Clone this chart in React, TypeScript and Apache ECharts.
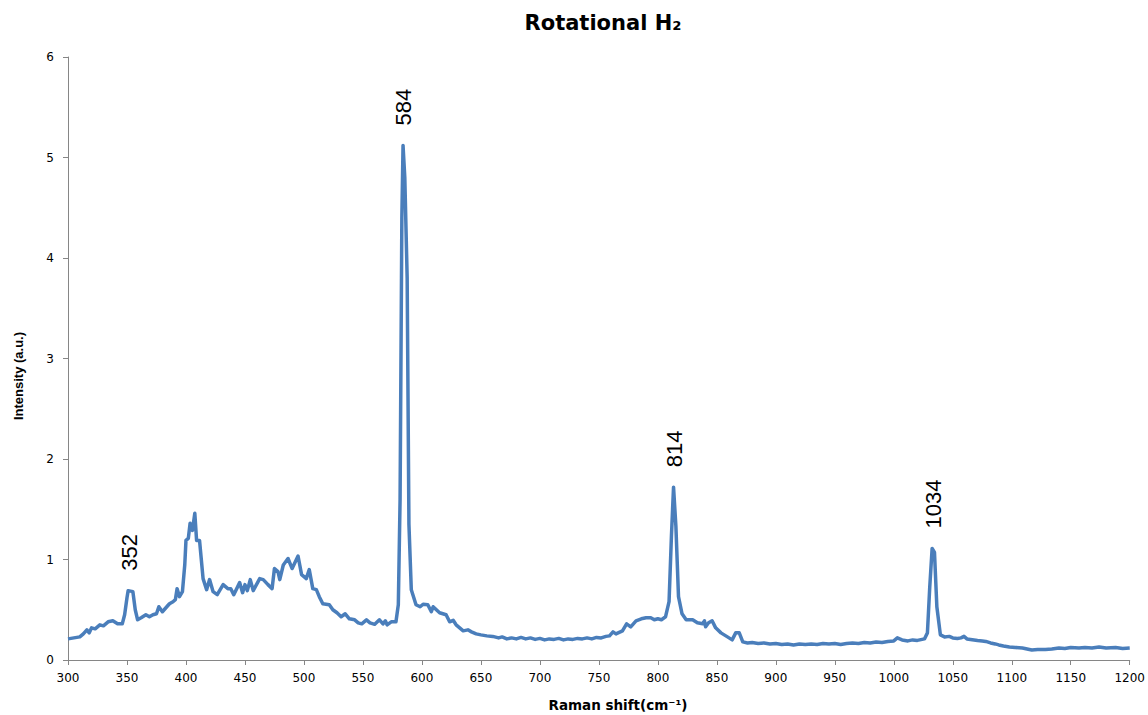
import React, { useEffect, useRef } from "react";
import * as echarts from "echarts";

// [Raman shift (cm-1), intensity (a.u.)]
const spectrum: [number, number][] = [
  [300, 0.21], [305, 0.22], [310, 0.23], [313, 0.26], [316, 0.3], [318, 0.27], [320, 0.32], [323, 0.31],
  [327, 0.35], [330, 0.34], [334, 0.38], [338, 0.39], [342, 0.36], [346, 0.36], [348, 0.45], [350, 0.62],
  [351, 0.69], [355, 0.68], [357, 0.5], [359, 0.4], [362, 0.42], [366, 0.45], [369, 0.43], [372, 0.45],
  [375, 0.46], [377, 0.53], [380, 0.48], [383, 0.52], [386, 0.56], [389, 0.58], [391, 0.6], [392.5, 0.71],
  [394.5, 0.63], [397, 0.68], [399, 0.95], [400, 1.19], [402, 1.21], [403.5, 1.36], [405.5, 1.29], [407.5, 1.46],
  [409, 1.19], [411.5, 1.19], [413, 1.0], [414.5, 0.81], [417.5, 0.7], [420, 0.8], [423, 0.68], [426.5, 0.65],
  [431.5, 0.75], [435.5, 0.71], [438, 0.71], [440.5, 0.65], [445.5, 0.77], [448, 0.67], [450, 0.75], [452, 0.69],
  [454.5, 0.8], [457, 0.69], [462.5, 0.81], [465.5, 0.8], [469.5, 0.75], [473, 0.71], [475, 0.91], [478, 0.88],
  [479.5, 0.8], [482.5, 0.945], [486.5, 1.01], [490, 0.91], [495, 1.035], [498, 0.85], [502, 0.81], [504.5, 0.9],
  [507.5, 0.71], [510.5, 0.7], [513, 0.63], [516, 0.56], [521.5, 0.55], [524.5, 0.5], [528, 0.47], [531.5, 0.43],
  [535, 0.46], [538.5, 0.41], [543, 0.4], [546, 0.37], [549, 0.36], [553, 0.4], [556, 0.37], [560, 0.355],
  [564, 0.4], [567, 0.36], [569, 0.39], [570.5, 0.35], [574, 0.38], [578, 0.38], [580, 0.55], [581.5, 1.6],
  [583, 4.4], [584, 5.12], [585.5, 4.8], [587.5, 3.8], [589, 1.35], [591, 0.7], [595, 0.55], [598.5, 0.53],
  [601, 0.555], [605, 0.55], [608, 0.48], [609.5, 0.53], [615, 0.47], [620.5, 0.45], [623.5, 0.38], [626.5, 0.395],
  [629, 0.35], [635, 0.29], [639, 0.3], [642, 0.28], [646, 0.26], [650, 0.25], [655, 0.24], [660, 0.235],
  [665, 0.22], [668, 0.23], [672, 0.21], [676, 0.22], [680, 0.21], [684, 0.225], [688, 0.21], [692, 0.22],
  [696, 0.205], [700, 0.215], [704, 0.2], [708, 0.21], [712, 0.205], [716, 0.215], [720, 0.2], [724, 0.21],
  [728, 0.205], [732, 0.215], [736, 0.21], [740, 0.22], [744, 0.21], [748, 0.225], [752, 0.22], [756, 0.235],
  [759, 0.24], [762, 0.28], [764.5, 0.26], [770, 0.29], [773.5, 0.36], [777, 0.33], [781.5, 0.39], [786, 0.41],
  [790, 0.42], [794, 0.42], [797, 0.4], [800, 0.41], [803, 0.4], [806.5, 0.43], [809.5, 0.58], [811.5, 1.23],
  [813.3, 1.72], [815.3, 1.33], [817.5, 0.63], [820.5, 0.46], [824, 0.4], [829.5, 0.4], [833.5, 0.37], [838, 0.36],
  [839.5, 0.39], [840.5, 0.33], [843, 0.37], [846, 0.39], [849, 0.32], [853.5, 0.27], [859, 0.23], [863, 0.2],
  [866, 0.27], [869, 0.27], [872, 0.18], [876, 0.17], [880, 0.175], [885, 0.165], [890, 0.17], [895, 0.16],
  [900, 0.165], [905, 0.155], [910, 0.16], [915, 0.15], [920, 0.16], [925, 0.155], [930, 0.16], [935, 0.155],
  [940, 0.165], [945, 0.16], [950, 0.165], [955, 0.155], [960, 0.165], [965, 0.17], [970, 0.165], [975, 0.175],
  [980, 0.17], [985, 0.18], [990, 0.175], [995, 0.185], [1000, 0.19], [1003, 0.22], [1007, 0.2], [1012, 0.19],
  [1016, 0.2], [1020, 0.195], [1026, 0.21], [1028.5, 0.27], [1030.5, 0.73], [1032.5, 1.11], [1034.5, 1.07], [1036.5, 0.53],
  [1039.5, 0.25], [1043, 0.23], [1047, 0.235], [1050, 0.22], [1054, 0.215], [1057, 0.22], [1059.5, 0.235], [1062, 0.21],
  [1065, 0.205], [1068, 0.2], [1071, 0.195], [1075, 0.19], [1078, 0.185], [1082, 0.17], [1086, 0.16], [1089, 0.15],
  [1093, 0.14], [1098, 0.13], [1103, 0.125], [1109, 0.12], [1113, 0.11], [1117, 0.1], [1122, 0.105], [1128.5, 0.105],
  [1134, 0.11], [1140, 0.12], [1145, 0.115], [1150, 0.125], [1157, 0.12], [1162, 0.125], [1168, 0.12], [1174, 0.13],
  [1180, 0.12], [1188, 0.125], [1194, 0.115], [1200, 0.12],
];

const peakShifts: number[] = [352, 584, 814, 1034];
const peakLabels: string[] = ["352", "584", "814", "1034"];

const titleText = "Rotational H\u2082";
const xAxisTitle = "Raman shift(cm\u207B\u00B9)";
const yAxisTitle = "Intensity (a.u.)";

export default function App() {
  const ref = useRef<HTMLDivElement>(null);

  useEffect(() => {
    if (!ref.current) return;
    const chart = echarts.init(ref.current, null, { renderer: "svg" });
    const axisColor = "#868686";
    const labelFont = { color: "#000", fontFamily: "DejaVu Sans", fontSize: 12 };

    chart.setOption({
      animation: false,
      backgroundColor: "#fff",
      grid: { left: 68, right: 17, top: 57, bottom: 55, containLabel: false },
      xAxis: {
        type: "value",
        min: 300,
        max: 1200,
        interval: 50,
        axisLine: { show: true, lineStyle: { color: axisColor, width: 1 } },
        axisTick: { show: true, length: 5, lineStyle: { color: axisColor } },
        splitLine: { show: false },
        axisLabel: { ...labelFont, margin: 12, formatter: (v: number) => String(v) },
      },
      yAxis: {
        type: "value",
        min: 0,
        max: 6,
        interval: 1,
        axisLine: { show: true, lineStyle: { color: axisColor, width: 1 } },
        axisTick: { show: true, length: 5, lineStyle: { color: axisColor } },
        splitLine: { show: false },
        axisLabel: { ...labelFont, margin: 14 },
      },
      series: [
        {
          type: "line",
          data: spectrum,
          showSymbol: false,
          symbol: "none",
          smooth: false,
          lineStyle: { color: "#4a7ebb", width: 3.5, join: "round" },
          itemStyle: { color: "#4a7ebb" },
        },
      ],
    });

    const annotations = peakShifts.map((p, k) => {
      let top = 0;
      spectrum.forEach(([s, v]) => {
        if (Math.abs(s - p) <= 4 && v > top) top = v;
      });
      const [px, py] = chart.convertToPixel({ gridIndex: 0 }, [p, top]) as number[];
      return {
        type: "text",
        x: px,
        y: py - 20,
        rotation: Math.PI / 2,
        style: {
          text: peakLabels[k],
          font: "22px 'Liberation Sans'",
          fill: "#000",
          align: "left",
          verticalAlign: "middle",
        },
      };
    });

    chart.setOption({
      graphic: [
        {
          type: "text",
          x: 603,
          y: 23,
          style: {
            text: titleText,
            font: "bold 21px 'DejaVu Sans'",
            fill: "#000",
            align: "center",
            verticalAlign: "middle",
          },
        },
        {
          type: "text",
          x: 618,
          y: 705,
          style: {
            text: xAxisTitle,
            font: "bold 13.5px 'DejaVu Sans'",
            fill: "#000",
            align: "center",
            verticalAlign: "middle",
          },
        },
        {
          type: "text",
          x: 18,
          y: 376,
          rotation: Math.PI / 2,
          style: {
            text: yAxisTitle,
            font: "bold 13px 'Liberation Sans'",
            fill: "#000",
            align: "center",
            verticalAlign: "middle",
          },
        },
        ...annotations,
      ],
    });

    return () => chart.dispose();
  }, []);

  return (
    <div
      ref={ref}
      style={{ position: "absolute", left: 0, top: 0, width: 1148, height: 715, background: "#fff" }}
    />
  );
}
